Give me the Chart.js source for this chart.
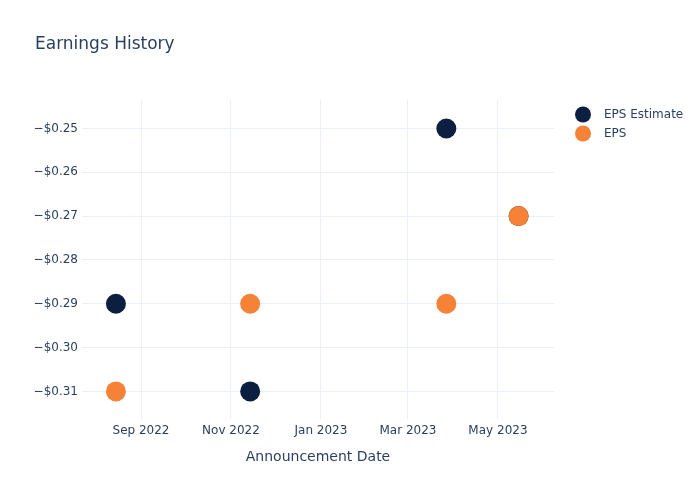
<!DOCTYPE html>
<html>
<head>
<meta charset="utf-8">
<script src="https://cdn.jsdelivr.net/npm/chart.js@4.4.0/dist/chart.umd.min.js"></script>
<style>
  body { margin: 0; background: #fff; }
  canvas { display: block; }
</style>
</head>
<body>
<canvas id="epsChart" width="700" height="500"></canvas>
<script>
// announcement dates and values
const dates = ['2022-08-15', '2022-11-14', '2023-03-27', '2023-05-15'];
const epsEstimate = [-0.29, -0.31, -0.25, -0.27];
const epsActual = [-0.31, -0.29, -0.29, -0.27];

// axis ticks
const xTickDates = ['2022-09-01', '2022-11-01', '2023-01-01', '2023-03-01', '2023-05-01'];
const xTickLabels = ['Sep 2022', 'Nov 2022', 'Jan 2023', 'Mar 2023', 'May 2023'];
const yTicks = [-0.31, -0.30, -0.29, -0.28, -0.27, -0.26, -0.25];

const xMin = Date.parse('2022-07-23');
const xMax = Date.parse('2023-06-08');

const textColor = '#2a3f5f';
const gridColor = '#ebf0f8';
const font = 'DejaVu Sans';

function toPoints(values) {
    return dates.map((d, i) => ({ x: Date.parse(d), y: values[i] }));
}

function moneyLabel(v) {
    const s = '$' + Math.abs(v).toFixed(2);
    return v < 0 ? '\u2212' + s : s;
}

// title and legend drawn like plotly
const decorPlugin = {
    id: 'decor',
    afterDraw(chart) {
        const ctx = chart.ctx;
        ctx.save();
        ctx.fillStyle = textColor;
        ctx.font = '17px "' + font + '"';
        ctx.textBaseline = 'middle';
        ctx.textAlign = 'left';
        ctx.fillText('Earnings History', 35, 45);

        ctx.font = '12px "' + font + '"';
        chart.data.datasets.forEach((ds, i) => {
            const y = 115 + i * 19;
            ctx.beginPath();
            ctx.arc(583, y - 0.5, 8, 0, Math.PI * 2);
            ctx.fillStyle = ds.backgroundColor;
            ctx.fill();
            ctx.fillStyle = textColor;
            ctx.fillText(ds.label, 604, y);
        });
        ctx.restore();
    }
};

new Chart(document.getElementById('epsChart'), {
    type: 'scatter',
    data: {
        datasets: [
            {
                label: 'EPS Estimate',
                data: toPoints(epsEstimate),
                backgroundColor: '#0c1f40',
                borderColor: '#0c1f40',
                borderWidth: 0,
                pointRadius: 10,
                order: 2
            },
            {
                label: 'EPS',
                data: toPoints(epsActual),
                backgroundColor: '#f68238',
                borderColor: '#f68238',
                borderWidth: 0,
                pointRadius: 10,
                order: 1
            }
        ]
    },
    options: {
        responsive: false,
        animation: false,
        layout: { padding: { left: 0, right: 146, top: 100, bottom: 0 } },
        plugins: {
            legend: { display: false },
            title: { display: false },
            tooltip: { enabled: false }
        },
        scales: {
            x: {
                type: 'linear',
                min: xMin,
                max: xMax,
                afterBuildTicks(scale) {
                    scale.ticks = xTickDates.map(d => ({ value: Date.parse(d) }));
                },
                afterFit(scale) { scale.height = 81; },
                grid: { color: gridColor, lineWidth: 1, drawTicks: false },
                border: { display: false },
                ticks: {
                    color: textColor,
                    font: { family: font, size: 12 },
                    padding: 5,
                    maxRotation: 0,
                    autoSkip: false,
                    callback(value) {
                        const i = xTickDates.findIndex(d => Date.parse(d) === value);
                        return i >= 0 ? xTickLabels[i] : '';
                    }
                },
                title: {
                    display: true,
                    text: 'Announcement Date',
                    color: textColor,
                    font: { family: font, size: 14 },
                    padding: { top: 0, bottom: 34 }
                }
            },
            y: {
                min: -0.3163,
                max: -0.2435,
                afterBuildTicks(scale) {
                    scale.ticks = yTicks.map(v => ({ value: v }));
                },
                afterFit(scale) { scale.width = 82; },
                grid: { color: gridColor, lineWidth: 1, drawTicks: false },
                border: { display: false },
                ticks: {
                    color: textColor,
                    font: { family: font, size: 12 },
                    padding: 4,
                    callback(value) { return moneyLabel(value); }
                }
            }
        }
    },
    plugins: [decorPlugin]
});
</script>
</body>
</html>
